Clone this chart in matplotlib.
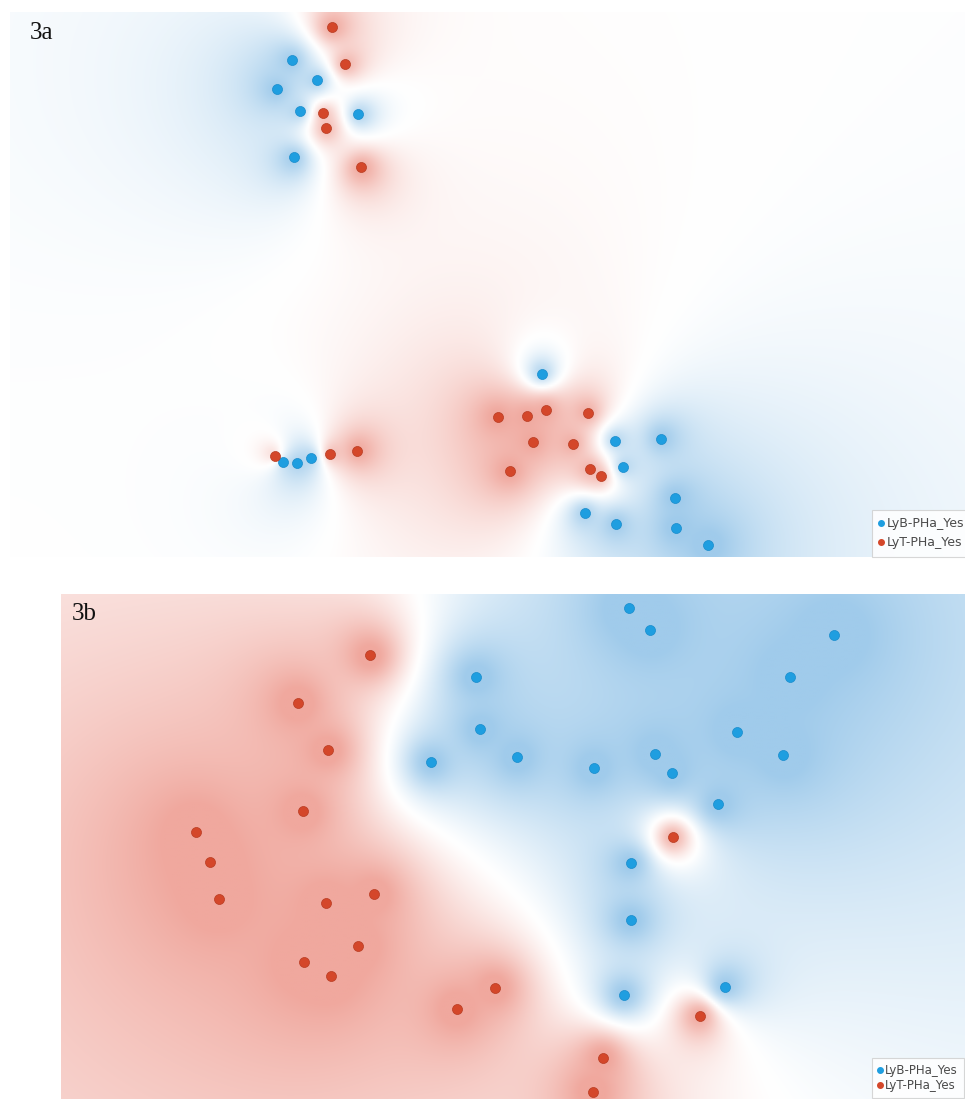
import numpy as np
import matplotlib
matplotlib.use("Agg")
import matplotlib.pyplot as plt
from matplotlib.lines import Line2D

# ---- projected sample positions (projection units, y grows downward) ----
a_red_x = [332, 345, 323, 326, 361, 275, 330, 357, 498, 527, 546, 588, 533, 573, 510, 590, 601]
a_red_y = [27, 64, 113, 128, 167, 456, 454, 451, 417, 416, 410, 413, 442, 444, 471, 469, 476]
a_blue_x = [292, 277, 317, 300, 358, 294, 542, 283, 297, 311, 615, 661, 623, 675, 585, 616, 676, 708]
a_blue_y = [60, 89, 80, 111, 114, 157, 374, 462, 463, 458, 441, 439, 467, 498, 513, 524, 528, 545]

b_red_x = [370, 298, 328, 303, 196, 210, 219, 326, 374, 358, 304, 331, 673, 495, 457, 700, 603, 593]
b_red_y = [655, 703, 750, 811, 832, 862, 899, 903, 894, 946, 962, 976, 837, 988, 1009, 1016, 1058, 1092]
b_blue_x = [629, 650, 834, 476, 790, 480, 431, 517, 594, 655, 737, 783, 672, 718, 631, 631, 624, 725]
b_blue_y = [608, 630, 635, 677, 677, 729, 762, 757, 768, 754, 732, 755, 773, 804, 863, 920, 995, 987]

series_labels = ["LyB-PHa_Yes", "LyT-PHa_Yes"]
panel_titles = ["3a", "3b"]

BLUE = "#1f9ee0"
RED = "#d4472a"
BLUE_TINT = np.array([160, 203, 235]) / 255.0
RED_TINT = np.array([240, 168, 158]) / 255.0

W, H = 965, 1099
fig = plt.figure(figsize=(W / 100, H / 100), dpi=100)
fig.patch.set_facecolor("white")


def density_image(xlim, ylim, rx, ry, bx, by, power=2.0, step=2):
    """Class-probability field from inverse-distance weighting of the two groups."""
    gx = np.arange(xlim[0], xlim[1] + step, step, dtype=float)
    gy = np.arange(ylim[0], ylim[1] + step, step, dtype=float)
    XX, YY = np.meshgrid(gx, gy)
    px = np.concatenate([rx, bx]).astype(float)
    py = np.concatenate([ry, by]).astype(float)
    lab = np.concatenate([np.ones(len(rx)), np.zeros(len(bx))])
    d2 = (XX[..., None] - px) ** 2 + (YY[..., None] - py) ** 2 + 80.0
    w = d2 ** (-power / 2)
    p_red = (w * lab).sum(-1) / w.sum(-1)
    s = 2 * p_red - 1
    a = np.clip(np.abs(s) * 1.12, 0, 1) ** 1.15
    tint = np.where(s[..., None] > 0, RED_TINT, BLUE_TINT)
    img = 1 - a[..., None] * (1 - tint)
    return img, gx, gy


def panel(rect_px, rx, ry, bx, by, title, title_pos, leg_top, leg_font, leg_space, leg_pad):
    x0, y0, x1, y1 = rect_px
    ax = fig.add_axes([x0 / W, 1 - y1 / H, (x1 - x0) / W, (y1 - y0) / H])
    img, gx, gy = density_image((x0, x1), (y0, y1), rx, ry, bx, by)
    ax.imshow(img, extent=(gx[0], gx[-1], gy[-1], gy[0]), interpolation="bilinear",
              aspect="auto", zorder=0)
    ax.scatter(bx, by, s=52, color=BLUE, edgecolors="#1a8ccc", linewidths=0.5, zorder=3)
    ax.scatter(rx, ry, s=52, color=RED, edgecolors="#b83c22", linewidths=0.5, zorder=3)
    ax.set_xlim(x0, x1)
    ax.set_ylim(y1, y0)
    ax.set_xticks([])
    ax.set_yticks([])
    for sp in ax.spines.values():
        sp.set_visible(False)
    ax.text(title_pos[0], title_pos[1], title, fontsize=18, family="Liberation Serif",
            color="#111111", ha="left", va="baseline", zorder=5)
    handles = [
        Line2D([], [], ls="none", marker="o", ms=4, color=BLUE, label=series_labels[0]),
        Line2D([], [], ls="none", marker="o", ms=4, color=RED, label=series_labels[1]),
    ]
    leg = ax.legend(handles=handles, loc="upper left",
                    bbox_to_anchor=((872 - x0) / (x1 - x0), (y1 - leg_top) / (y1 - y0)),
                    fontsize=leg_font, frameon=True, fancybox=False, framealpha=0.85,
                    edgecolor="#d0d0d0", handlelength=0.3, handletextpad=0.3,
                    borderpad=leg_pad, labelspacing=leg_space, borderaxespad=0.0)
    leg.get_frame().set_linewidth(0.8)
    for t in leg.get_texts():
        t.set_color("#4a4a4a")
    return ax


panel((10, 12, 965, 557), a_red_x, a_red_y, a_blue_x, a_blue_y, panel_titles[0], (30, 39),
      510, 9, 0.45, 0.6)
panel((61, 594, 965, 1099), b_red_x, b_red_y, b_blue_x, b_blue_y, panel_titles[1], (72, 620),
      1058, 8.5, 0.2, 0.5)

fig.savefig("out.png", dpi=100, facecolor="white")
